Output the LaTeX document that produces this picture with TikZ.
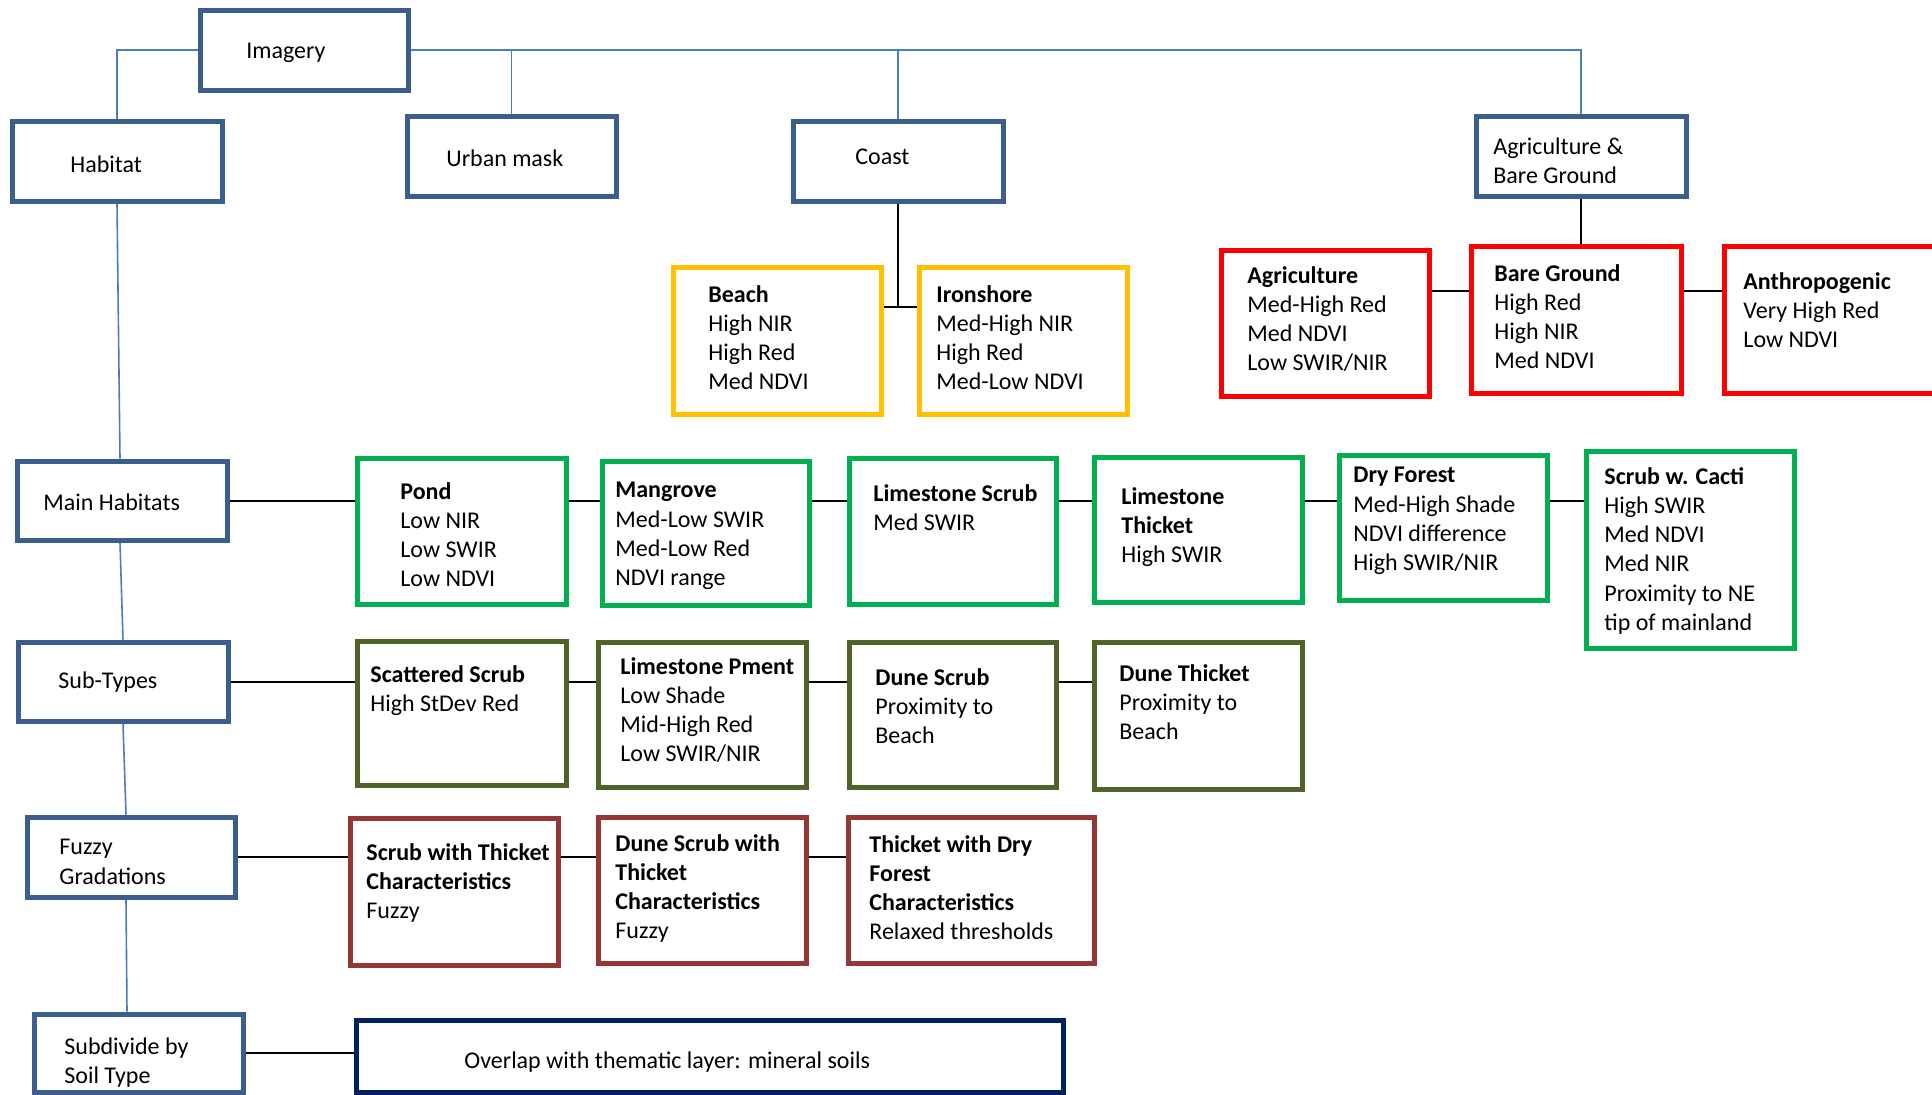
\documentclass[tikz,border=0pt]{standalone}
\usepackage{fontspec}
\setmainfont{Carlito}
\usetikzlibrary{fit}
\definecolor{catblue}{HTML}{3B5E8C}
\definecolor{linkblue}{HTML}{4A7EBB}
\definecolor{coastyellow}{HTML}{FFC000}
\definecolor{agred}{HTML}{FF0000}
\definecolor{habgreen}{HTML}{00B050}
\definecolor{subolive}{HTML}{4F6228}
\definecolor{fuzzred}{HTML}{953735}
\definecolor{soilnavy}{HTML}{002060}

\tikzset{
  boxbase/.style={rectangle, draw, line width=2.5pt, inner sep=0pt},
  topbox/.style={boxbase, draw=catblue},
  coastbox/.style={boxbase, draw=coastyellow},
  agbox/.style={boxbase, draw=agred},
  habbox/.style={boxbase, draw=habgreen},
  subbox/.style={boxbase, draw=subolive},
  fuzzbox/.style={boxbase, draw=fuzzred},
  soilbox/.style={boxbase, draw=soilnavy},
  txt/.style={anchor=north west, inner sep=0pt, align=left,
    font=\fontsize{12}{14.6}\selectfont},
  bline/.style={draw=linkblue, line width=0.8pt},
  kline/.style={draw=black, line width=1pt}
}

\begin{document}
\begin{tikzpicture}[x=0.5pt, y=-0.5pt]
  \clip (0,0) rectangle (1932,1094);

  % frames
  \foreach \n/\s/\a/\b/\c/\d in {
      imagery/topbox/200/10/408/90, habitat/topbox/12/121/222/201,
      urban/topbox/407/116/616/196, coast/topbox/793/121/1003/201,
      agbg/topbox/1476/116/1686/196,
      beach/coastbox/673/267/881/414, ironshore/coastbox/919/267/1127/414,
      agri/agbox/1221/250/1429/396, bareground/agbox/1471/246/1681/393,
      anthro/agbox/1724/246/1950/393,
      mainhab/topbox/17/461/227/540,
      pond/habbox/357/458/566/604, mangrove/habbox/602/461/809/605,
      lscrub/habbox/849/458/1056/604, lthicket/habbox/1094/457/1302/602,
      dryforest/habbox/1339/455/1547/600, cacti/habbox/1586/451/1794/648,
      subtypes/topbox/18/642/228/721,
      scattered/subbox/357/641/566/785, pment/subbox/598/642/806/787,
      dunescrub/subbox/849/642/1056/787, dunethicket/subbox/1094/642/1302/789,
      fuzzy/topbox/27/817/235/897,
      scrubthicket/fuzzbox/350/818/558/965,
      dunescrubthicket/fuzzbox/598/817/806/963,
      thicketdry/fuzzbox/848/817/1094/963,
      soil/topbox/34/1014/243/1092,
      overlap/soilbox/356/1020/1063/1092}
    \node[\s, fit={(\a,\b) (\c,\d)}] (\n) {};

  % texts
  \node[txt] (imageryt) at (246,43) {Imagery};
  \node[txt] (habitatt) at (70,155) {Habitat};
  \node[txt] (urbant) at (446,149) {Urban mask};
  \node[txt] (coastt) at (855,149) {Coast};
  \node[txt] (agbgt) at (1493,137) {Agriculture \&\\Bare Ground};
  \node[txt] (beacht) at (708,285) {\textbf{Beach}\\High NIR\\High Red\\Med NDVI};
  \node[txt] (ironshoret) at (936,285) {\textbf{Ironshore}\\Med-High NIR\\High Red\\Med-Low NDVI};
  \node[txt] (agrit) at (1247,266) {\textbf{Agriculture}\\Med-High Red\\Med NDVI\\Low SWIR/NIR};
  \node[txt] (baregroundt) at (1494,264) {\textbf{Bare Ground}\\High Red\\High NIR\\Med NDVI};
  \node[txt] (anthrot) at (1743,272) {\textbf{Anthropogenic}\\Very High Red\\Low NDVI};
  \node[txt] (mainhabt) at (43,493) {Main Habitats};
  \node[txt] (pondt) at (400,482) {\textbf{Pond}\\Low NIR\\Low SWIR\\Low NDVI};
  \node[txt] (mangrovet) at (615,482) {\textbf{Mangrove}\\Med-Low SWIR\\Med-Low Red\\NDVI range};
  \node[txt] (lscrubt) at (873,484) {\textbf{Limestone Scrub}\\Med SWIR};
  \node[txt] (lthickett) at (1121,487) {\textbf{Limestone}\\\textbf{Thicket}\\High SWIR};
  \node[txt] (dryforestt) at (1353,467) {\textbf{Dry Forest}\\Med-High Shade\\NDVI difference\\High SWIR/NIR};
  \node[txt] (cactit) at (1604,467) {\textbf{Scrub w. Cacti}\\High SWIR\\Med NDVI\\Med NIR\\Proximity to NE\\tip of mainland};
  \node[txt] (subtypest) at (58,671) {Sub-Types};
  \node[txt] (scatteredt) at (370,665) {\textbf{Scattered Scrub}\\High StDev Red};
  \node[txt] (pmentt) at (620,657) {\textbf{Limestone Pment}\\Low Shade\\Mid-High Red\\Low SWIR/NIR};
  \node[txt] (dunescrubt) at (875,668) {\textbf{Dune Scrub}\\Proximity to\\Beach};
  \node[txt] (dunethickett) at (1119,664) {\textbf{Dune Thicket}\\Proximity to\\Beach};
  \node[txt] (fuzzyt) at (59,839) {Fuzzy\\Gradations};
  \node[txt] (scrubthickett) at (366,843) {\textbf{Scrub with Thicket}\\\textbf{Characteristics}\\Fuzzy};
  \node[txt] (dunescrubthickett) at (615,834) {\textbf{Dune Scrub with}\\\textbf{Thicket}\\\textbf{Characteristics}\\Fuzzy};
  \node[txt] (thicketdryt) at (869,835) {\textbf{Thicket with Dry}\\\textbf{Forest}\\\textbf{Characteristics}\\Relaxed thresholds};
  \node[txt] (soilt) at (64,1037) {Subdivide by\\Soil Type};
  \node[txt] (overlapt) at (464,1051) {Overlap with thematic layer: mineral soils};

  % blue tree
  \draw[bline] (imagery.west) -| (habitat.north);
  \draw[bline] (imagery.east) -| (agbg.north);
  \draw[bline] (urban.north) -- (urban.north |- imagery.east);
  \draw[bline] (coast.north) -- (coast.north |- imagery.east);
  \draw[bline] (habitat.south) -- ([xshift=-1pt]mainhab.north);
  \draw[bline] ([xshift=-1pt]mainhab.south) -- (subtypes.north);
  \draw[bline] (subtypes.south) -- ([xshift=-2.5pt]fuzzy.north);
  \draw[bline] ([xshift=-2.5pt]fuzzy.south) -- ([xshift=-5.75pt]soil.north);

  % black links
  \coordinate (cjoin) at (898,307);
  \draw[kline] (coast.south) -- (cjoin);
  \draw[kline] (beach.east |- cjoin) -- (ironshore.west |- cjoin);
  \draw[kline] (agbg.south) -- (agbg.south |- bareground.north);
  \coordinate (ajoin) at (1450,291);
  \draw[kline] (agri.east |- ajoin) -- (bareground.west |- ajoin);
  \draw[kline] (bareground.east |- ajoin) -- (anthro.west |- ajoin);
  \foreach \a/\b in {mainhab/pond, pond/mangrove, mangrove/lscrub,
                     lscrub/lthicket, lthicket/dryforest, dryforest/cacti}
    \draw[kline] (\a.east |- mainhab.east) -- (\b.west |- mainhab.east);
  \foreach \a/\b in {subtypes/scattered, scattered/pment, pment/dunescrub,
                     dunescrub/dunethicket}
    \draw[kline] (\a.east |- subtypes.east) -- (\b.west |- subtypes.east);
  \foreach \a/\b in {fuzzy/scrubthicket, scrubthicket/dunescrubthicket,
                     dunescrubthicket/thicketdry}
    \draw[kline] (\a.east |- fuzzy.east) -- (\b.west |- fuzzy.east);
  \draw[kline] (soil.east) -- (overlap.west |- soil.east);
\end{tikzpicture}
\end{document}
